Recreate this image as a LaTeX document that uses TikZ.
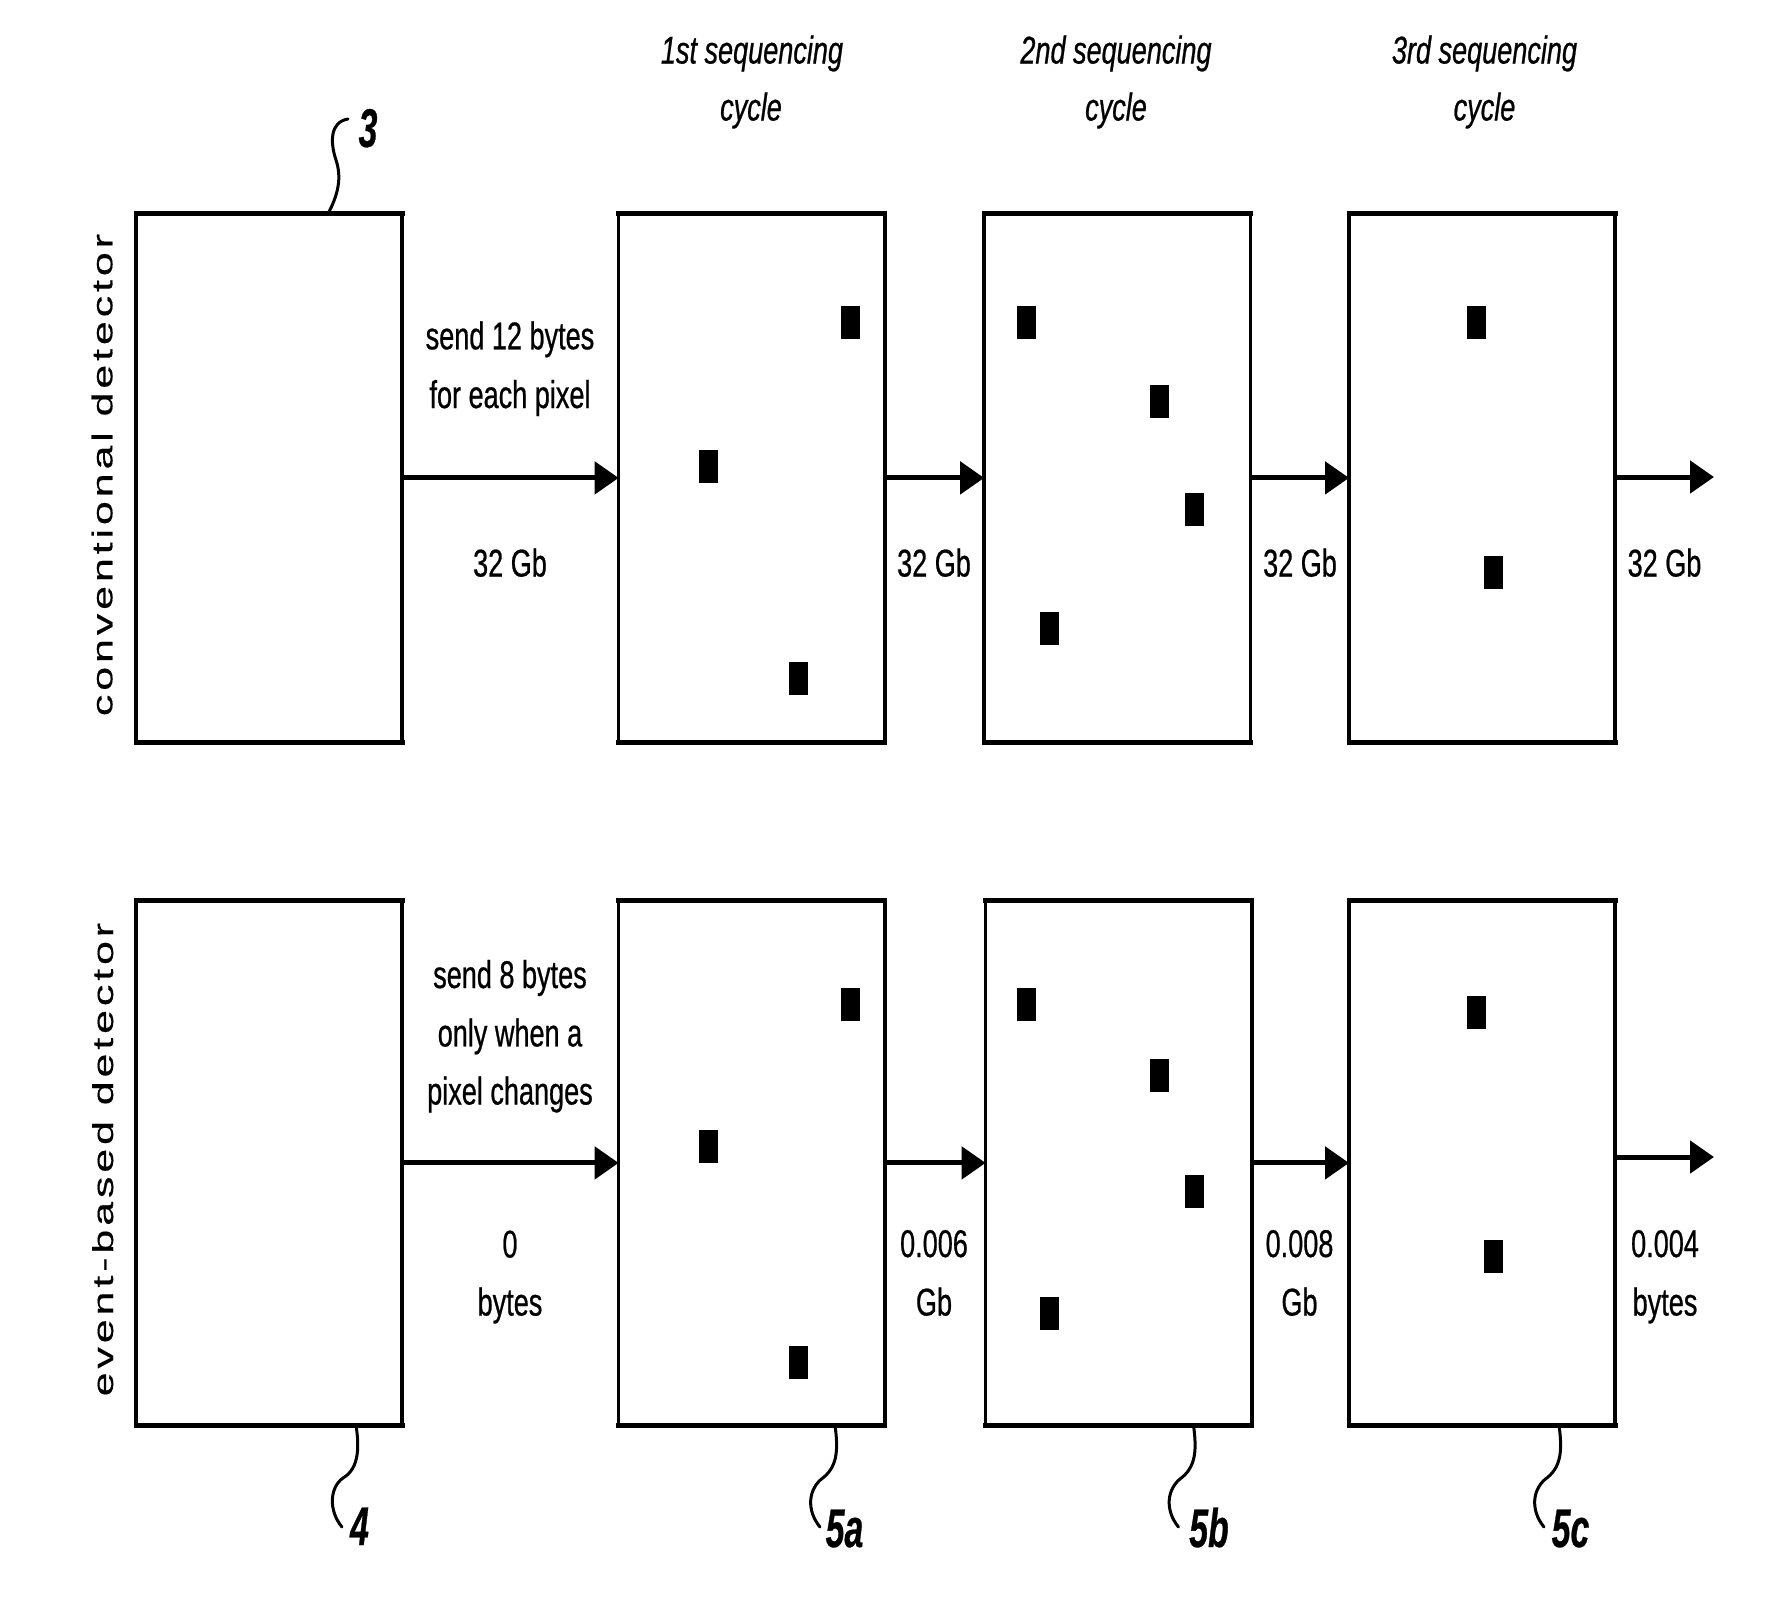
\documentclass[tikz,border=0pt]{standalone}
\usepackage{fontspec}
\setmainfont{Liberation Sans}
\newfontfamily\narrowf[FakeStretch=0.70,FakeBold=0.6]{Liberation Sans}
\newfontfamily\widef[FakeStretch=1.5,LetterSpace=13.5,FakeBold=0.4]{Liberation Sans}
\newfontfamily\labf[FakeStretch=0.62,FakeBold=0.5]{Liberation Sans}
\usetikzlibrary{arrows.meta}
\tikzset{
  box/.style={draw, line width=0.035cm, minimum width=2.66cm, inner sep=0pt, outer sep=0pt},
  boxtop/.style={box, minimum height=5.284cm},
  boxbot/.style={box, minimum height=5.252cm},
  edge/.style={line width=0.05cm, line cap=rect},
  pixel/.style={fill=black, minimum width=0.19cm, minimum height=0.33cm, inner sep=0pt, outer sep=0pt},
  arr/.style={line width=0.05cm, -{Triangle[length=0.24cm,width=0.32cm]}},
  lead/.style={line width=0.03cm, line cap=round},
  lbl/.style={font=\narrowf\fontsize{11pt}{13pt}\selectfont, inner sep=0pt, anchor=base},
  hdr/.style={font=\narrowf\itshape\fontsize{11pt}{13pt}\selectfont, inner sep=0pt, anchor=base},
  side/.style={font=\widef\fontsize{8.15pt}{10pt}\selectfont, rotate=90, inner sep=0pt, anchor=base},
  reflbl/.style={font=\labf\bfseries\itshape\fontsize{15.5pt}{18pt}\selectfont, inner sep=0pt, anchor=base},
}
\begin{document}
\begin{tikzpicture}[x=0.01cm,y=-0.01cm]
\fill[white] (0,0) rectangle (1782,1608);
\useasboundingbox (0,0) rectangle (1782,1608);

% headers
\node[hdr] (h1a) at (752,63.5) {1st sequencing};
\node[hdr] (h1b) at (751,120.5) {cycle};
\node[hdr] (h2a) at (1116,63.5) {2nd sequencing};
\node[hdr] (h2b) at (1116,120.5) {cycle};
\node[hdr] (h3a) at (1484.5,63.5) {3rd sequencing};
\node[hdr] (h3b) at (1484.5,120.5) {cycle};

% side labels
\node[side] (s1) at (112.3,475) {conventional detector};
\node[side] (s2) at (113,1159.5) {event-based detector};

% top row boxes
\node[boxtop] (A1) at (269.1,477.9) {};
\node[boxtop] (A2) at (751.7,477.9) {};
\node[boxtop] (A3) at (1117.2,477.9) {};
\node[boxtop] (A4) at (1482.1,477.9) {};
% bottom row boxes
\node[boxbot] (B1) at (269.1,1162.9) {};
\node[boxbot] (B2) at (751.7,1162.9) {};
\node[boxbot] (B3) at (1118.7,1162.9) {};
\node[boxbot] (B4) at (1482.1,1162.9) {};

\foreach \b in {A1,A2,A3,A4,B1,B2,B3,B4}{
  \draw[edge] (\b.north west) -- (\b.north east);
  \draw[edge] (\b.south west) -- (\b.south east);
}

% pixels top
\node[pixel] (pa1) at (850.5,322.7) {};
\node[pixel] (pa2) at (708,466.3) {};
\node[pixel] (pa3) at (798.5,678.4) {};
\node[pixel] (pa4) at (1026,322.7) {};
\node[pixel] (pa5) at (1159.3,401) {};
\node[pixel] (pa6) at (1194.8,509.7) {};
\node[pixel] (pa7) at (1049.8,628.3) {};
\node[pixel] (pa8) at (1476.4,322.7) {};
\node[pixel] (pa9) at (1493.3,572.7) {};
% pixels bottom
\node[pixel] (pb1) at (850.5,1004) {};
\node[pixel] (pb2) at (708,1146) {};
\node[pixel] (pb3) at (798.5,1362.7) {};
\node[pixel] (pb4) at (1026,1004) {};
\node[pixel] (pb5) at (1159.3,1075) {};
\node[pixel] (pb6) at (1194.8,1191.2) {};
\node[pixel] (pb7) at (1049.8,1313) {};
\node[pixel] (pb8) at (1476.4,1012.4) {};
\node[pixel] (pb9) at (1493.3,1256.2) {};

% arrows
\coordinate (outA) at (1714,477);
\coordinate (outB) at (1714,1157);
\draw[arr] (A1.east) -- (A2.west);
\draw[arr] (A2.east) -- (A3.west);
\draw[arr] (A3.east) -- (A4.west);
\draw[arr] (A4.east |- outA) -- (outA);
\draw[arr] (B1.east) -- (B2.west);
\draw[arr] (B2.east) -- (B3.west);
\draw[arr] (B3.east) -- (B4.west);
\draw[arr] (B4.east |- outB) -- (outB);

% top row labels
\node[lbl] (ta1) at (510,349.3) {send 12 bytes};
\node[lbl] (ta2) at (510,408) {for each pixel};
\node[lbl] (ta3) at (510,576.5) {32 Gb};
\node[lbl] (ta4) at (934,576.5) {32 Gb};
\node[lbl] (ta5) at (1300,576.5) {32 Gb};
\node[lbl] (ta6) at (1664.5,576.5) {32 Gb};

% bottom row labels
\node[lbl] (tb1) at (510,988) {send 8 bytes};
\node[lbl] (tb2) at (510,1046.4) {only when a};
\node[lbl] (tb3) at (510,1104.5) {pixel changes};
\node[lbl] (tb4) at (510,1257.5) {0};
\node[lbl] (tb5) at (510,1315.5) {bytes};
\node[lbl] (tb6) at (934,1257) {0.006};
\node[lbl] (tb7) at (934,1315.5) {Gb};
\node[lbl] (tb8) at (1299.5,1257) {0.008};
\node[lbl] (tb9) at (1299.5,1315.5) {Gb};
\node[lbl] (tb10) at (1665,1257) {0.004};
\node[lbl] (tb11) at (1665,1315.5) {bytes};

% reference numerals and leaders
\node[reflbl] (r3) at (368,147) {3};
\node[reflbl] (r4) at (359.5,1545) {4};
\node[reflbl] (r5a) at (844.5,1547) {5a};
\node[reflbl] (r5b) at (1209,1547) {5b};
\node[reflbl] (r5c) at (1570.5,1547) {5c};

\draw[lead] (328,213.7) .. controls (338,195) and (342,178) .. (336,160)
            .. controls (330,142) and (330,122) .. (348,119);
\draw[lead] (356,1425) .. controls (359,1445) and (360,1468) .. (343,1478)
            .. controls (330,1487) and (328,1510) .. (342,1527);
\draw[lead] (835,1425) .. controls (838,1448) and (838,1465) .. (824,1477)
            .. controls (808,1488) and (806,1510) .. (820,1527);
\draw[lead] (1193.5,1425) .. controls (1196.5,1448) and (1196.5,1465) .. (1182.5,1477)
            .. controls (1166.5,1488) and (1164.5,1510) .. (1178.5,1527);
\draw[lead] (1559,1425) .. controls (1562,1448) and (1562,1465) .. (1548,1477)
            .. controls (1532,1488) and (1530,1510) .. (1544,1527);
\end{tikzpicture}
\end{document}
